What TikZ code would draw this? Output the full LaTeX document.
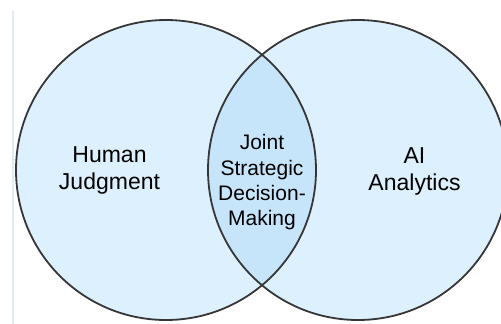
\documentclass[tikz,border=0pt]{standalone}
\usepackage{fontspec}
\setmainfont{Liberation Sans}
\definecolor{setfill}{HTML}{DDF0FD}
\definecolor{overlapfill}{HTML}{C6E5FA}
\definecolor{ringline}{HTML}{363636}
\definecolor{edgeline}{HTML}{E4E9F7}
\tikzset{
  ring/.style={draw=ringline, line width=1.8pt},
  sidelabel/.style={align=center, text=black, inner sep=0pt,
    font=\fontsize{23}{27}\selectfont},
  midlabel/.style={align=center, text=black, inner sep=0pt,
    font=\fontsize{21}{25.3}\selectfont},
}
\begin{document}
\begin{tikzpicture}[x=1pt,y=-1pt]
  \useasboundingbox (0,0) rectangle (501,324);
  \fill[white] (0,0) rectangle (501,324);
  % faint left rule
  \draw[edgeline, line width=1.8pt] (12.7,11) -- (12.7,324);
  % the two sets
  \coordinate (hc) at (166,170);
  \coordinate (ac) at (358,170);
  \fill[setfill] (hc) circle (150pt);
  \fill[setfill] (ac) circle (150pt);
  % overlap region
  \begin{scope}
    \clip (hc) circle (150pt);
    \fill[overlapfill] (ac) circle (150pt);
  \end{scope}
  \draw[ring] (hc) circle (150pt);
  \draw[ring] (ac) circle (150pt);
  % labels
  \node[sidelabel] (human) at (109.5,170) {Human\\Judgment};
  \node[sidelabel] (ai) at (414.5,171) {AI\\Analytics};
  \node[midlabel] (joint) at (262,182.5) {Joint\\Strategic\\Decision-\\Making};
\end{tikzpicture}
\end{document}
